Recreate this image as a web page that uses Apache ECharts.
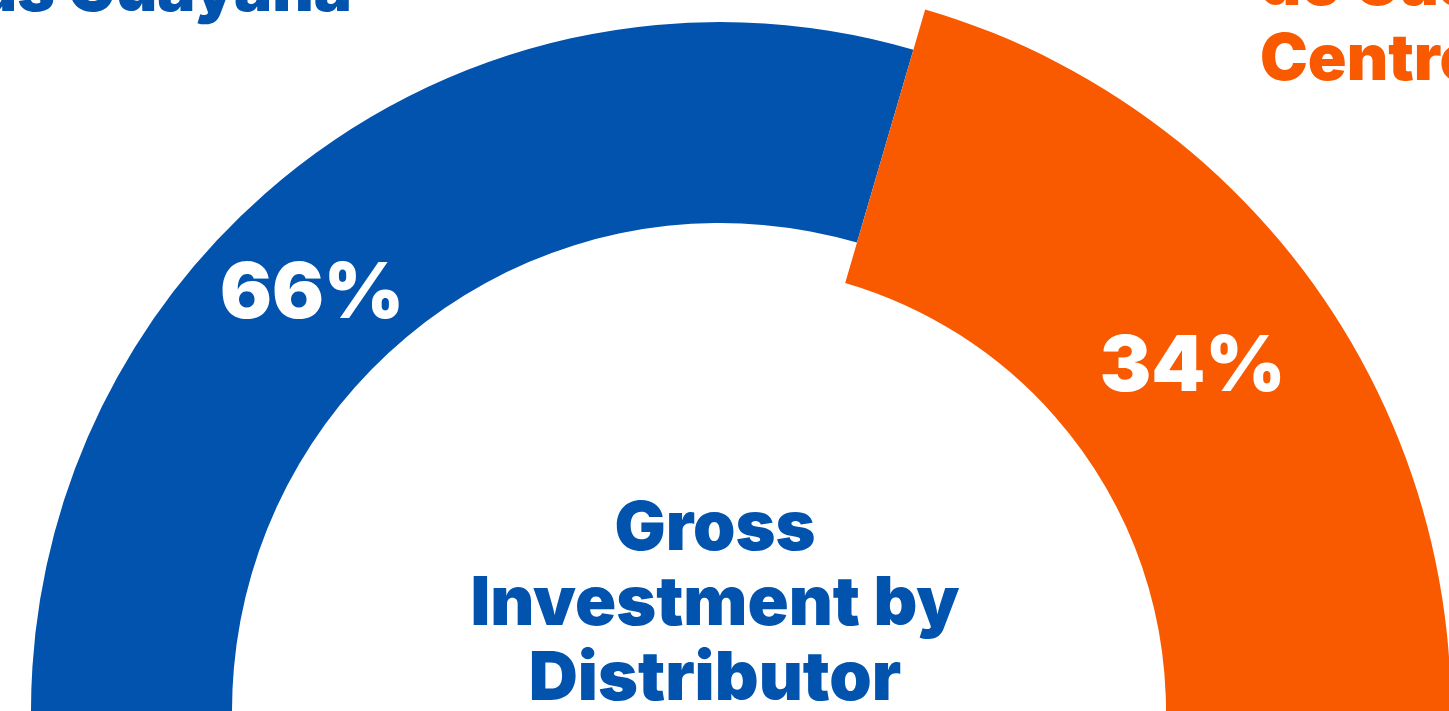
<!DOCTYPE html>
<html lang="en">
<head>
    <meta charset="UTF-8">
    <title>Gross Investment by Distributor</title>
    <script src="https://cdn.jsdelivr.net/npm/echarts@6/dist/echarts.min.js"></script>
    <style>
        html, body { margin: 0; padding: 0; background: #fff; }
        #chart { width: 1449px; height: 711px; }
    </style>
</head>
<body>
    <div id="chart"></div>
<script>
    // data
    var distributors = ['Distribuidora\nde Castilla\nCentro', 'Empresas\nUnidas Guayana'];
    var shares = [34, 66];
    var colors = ['#F95A00', '#0253AD'];
    var chartTitle = 'Gross\nInvestment by\nDistributor';

    var FONT = 'Inter';
    var cx = 720, cy = 711;

    // label spots (angle deg, radius px) for the percentage text
    var labelSpots = [[35.95, 584], [134.4, 583]];

    var myChart = echarts.init(document.getElementById('chart'));

    function ring(idx, radius) {
        return {
            type: 'pie',
            center: [cx, cy],
            radius: radius,
            startAngle: 73.7,
            clockwise: true,
            silent: true,
            animation: false,
            labelLine: { show: false },
            data: shares.map(function (v, i) {
                var on = i === idx;
                return {
                    name: distributors[i],
                    value: v,
                    itemStyle: { color: on ? colors[i] : 'rgba(0,0,0,0)' },
                    label: {
                        show: on,
                        position: 'inside',
                        formatter: '{d}%',
                        color: '#fff',
                        fontFamily: FONT,
                        fontWeight: 900,
                        fontSize: 77
                    }
                };
            }),
            labelLayout: function (params) {
                var s = labelSpots[idx];
                var a = s[0] * Math.PI / 180;
                return {
                    x: cx + s[1] * Math.cos(a),
                    y: cy - s[1] * Math.sin(a),
                    align: 'center',
                    verticalAlign: 'middle'
                };
            }
        };
    }

    var option = {
        backgroundColor: '#fff',
        title: [{
            text: chartTitle,
            left: 710,
            top: 487,
            textAlign: 'center',
            textStyle: { color: colors[1], fontFamily: FONT, fontWeight: 900, fontSize: 68, lineHeight: 75 }
        }, {
            // outer name, top-left (mostly off the canvas)
            text: distributors[1],
            left: 347,
            top: -126,
            textAlign: 'right',
            textStyle: { color: colors[1], fontFamily: FONT, fontWeight: 900, fontSize: 64, lineHeight: 75, align: 'right' }
        }, {
            // outer name, top-right
            text: distributors[0],
            left: 1255,
            top: -132,
            textAlign: 'left',
            textStyle: { color: colors[0], fontFamily: FONT, fontWeight: 900, fontSize: 64, lineHeight: 75 }
        }],
        series: [ring(1, [488, 689]), ring(0, [446, 731])]
    };
    myChart.setOption(option);
</script>
</body>
</html>
